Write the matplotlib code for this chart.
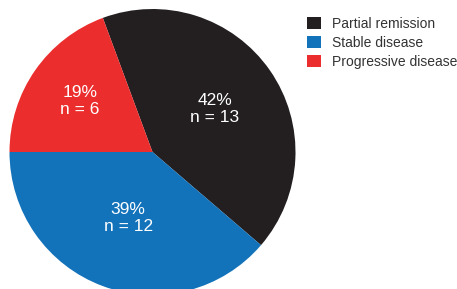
import matplotlib
matplotlib.use("Agg")
import matplotlib.pyplot as plt
from matplotlib.patches import Patch
import numpy as np

plt.rcParams['font.family'] = ['Liberation Sans', 'DejaVu Sans']

categories = ["Partial remission", "Stable disease", "Progressive disease"]
counts = [13, 12, 6]
pct_labels = ["42%", "39%", "19%"]
colors = ["#231f20", "#1272ba", "#ec2d2d"]
label_dist = [0.53, 0.49, 0.62]

W, H = 457, 289
fig = plt.figure(figsize=(W / 100, H / 100), dpi=100)
cx, cy, r = 152.5, 289 - 152, 143
ax = fig.add_axes([(cx - r) / W, (cy - r) / H, 2 * r / W, 2 * r / H])
total = sum(counts)
wedges, _ = ax.pie(counts, colors=colors, startangle=180 - 360 * counts[2] / total,
                   counterclock=False, radius=1, wedgeprops=dict(linewidth=0))
ax.set_xlim(-1, 1)
ax.set_ylim(-1, 1)
ax.set_aspect('equal')
ax.axis('off')

for w, p, n, d in zip(wedges, pct_labels, counts, label_dist):
    ang = np.deg2rad((w.theta1 + w.theta2) / 2)
    ax.text(d * np.cos(ang), d * np.sin(ang), f"{p}\nn = {n}", ha='center', va='center',
            color='white', fontsize=12.5, linespacing=1.15)

handles = [Patch(facecolor=c, edgecolor='none') for c in colors]
fig.legend(handles, categories, loc='upper left', bbox_to_anchor=(303 / W, 1 - 13 / H),
           frameon=False, fontsize=10, handlelength=1.0, handleheight=0.95,
           handletextpad=0.8, labelspacing=0.36, borderaxespad=0, borderpad=0.3,
           labelcolor='#333333')

fig.savefig("out.png", dpi=100)
